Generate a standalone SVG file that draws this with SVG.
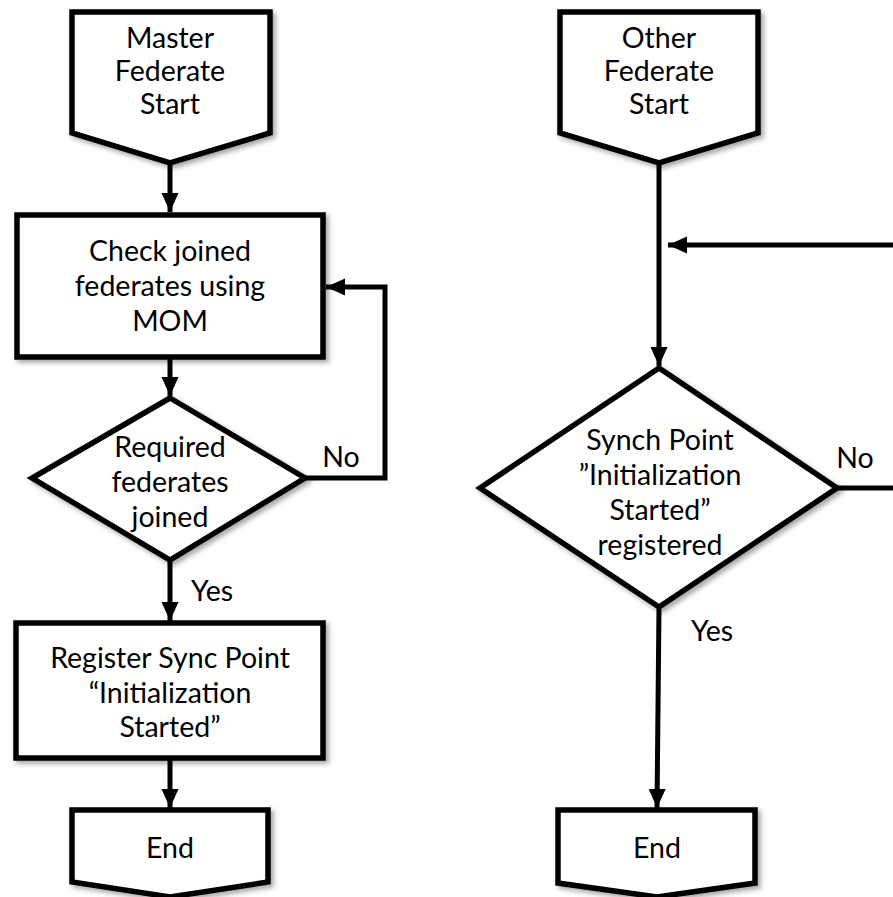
<svg xmlns="http://www.w3.org/2000/svg" width="893" height="897" viewBox="0 0 893 897">
<defs>
<filter id="sh" x="-10%" y="-10%" width="130%" height="130%">
<feDropShadow dx="3" dy="3" stdDeviation="2.5" flood-color="#000" flood-opacity="0.35"/>
</filter>
<marker id="ah" markerWidth="5" markerHeight="5" refX="3.8" refY="1.7" orient="auto" markerUnits="strokeWidth">
<path d="M0,0 L3.8,1.7 L0,3.4 z" fill="#000"/>
</marker>
<style>
.shape{fill:#fff;stroke:#000;stroke-width:5.5;stroke-linejoin:miter;filter:url(#sh)}
.t{font-family:Lato,"Open Sans","Liberation Sans",sans-serif;font-size:28.5px;fill:#000;text-anchor:middle}
.c{fill:none;stroke:#000;stroke-width:5}
</style>
</defs>
<rect width="893" height="897" fill="#fff"/>
<g id="connectors">
<line class="c" x1="170" y1="163" x2="170" y2="212" marker-end="url(#ah)"/>
<line class="c" x1="170" y1="357" x2="170" y2="396" marker-end="url(#ah)"/>
<polyline class="c" points="305,478 385,478 385,287 326,287" marker-end="url(#ah)"/>
<line class="c" x1="170" y1="560" x2="170" y2="621" marker-end="url(#ah)"/>
<line class="c" x1="170" y1="758" x2="170" y2="808" marker-end="url(#ah)"/>
<line class="c" x1="659" y1="163" x2="659" y2="366" marker-end="url(#ah)"/>
<line class="c" x1="893" y1="245" x2="668" y2="245" marker-end="url(#ah)"/>
<line class="c" x1="837" y1="488" x2="893" y2="488"/>
<line class="c" x1="659" y1="607" x2="657" y2="808" marker-end="url(#ah)"/>
<text class="t" x="341" y="467">No</text>
<text class="t" x="212" y="601">Yes</text>
<text class="t" x="855" y="468">No</text>
<text class="t" x="712" y="641">Yes</text>
</g>
<g id="master-start">
<path class="shape" d="M72,12 H270 V133 L170,163 L72,133 Z"/>
<text class="t" x="170" y="48">Master</text>
<text class="t" x="170" y="81">Federate</text>
<text class="t" x="170" y="114">Start</text>
</g>
<g id="check-joined">
<rect class="shape" x="17" y="215" width="306" height="142"/>
<text class="t" x="170" y="261">Check joined</text>
<text class="t" x="170" y="296">federates using</text>
<text class="t" x="170" y="331">MOM</text>
</g>
<g id="required-joined">
<path class="shape" d="M170,398 L305,478 L170,560 L32,478 Z"/>
<text class="t" x="170" y="457">Required</text>
<text class="t" x="170" y="492">federates</text>
<text class="t" x="170" y="527">joined</text>
</g>
<g id="register-sync">
<rect class="shape" x="16" y="623" width="307" height="135"/>
<text class="t" x="170" y="668">Register Sync Point</text>
<text class="t" x="170" y="703">“Initialization</text>
<text class="t" x="170" y="737">Started”</text>
</g>
<g id="master-end">
<path class="shape" d="M72,810 H268 V882 L170,897 L72,882 Z"/>
<text class="t" x="170" y="858">End</text>
</g>
<g id="other-start">
<path class="shape" d="M560,12 H758 V133 L659,163 L560,133 Z"/>
<text class="t" x="659" y="48">Other</text>
<text class="t" x="659" y="81">Federate</text>
<text class="t" x="659" y="114">Start</text>
</g>
<g id="synch-registered">
<path class="shape" d="M659,368 L837,488 L659,607 L480,488 Z"/>
<text class="t" x="660" y="450">Synch Point</text>
<text class="t" x="660" y="485">”Initialization</text>
<text class="t" x="660" y="520">Started”</text>
<text class="t" x="660" y="555">registered</text>
</g>
<g id="other-end">
<path class="shape" d="M558,810 H755 V883 L657,897 L558,883 Z"/>
<text class="t" x="657" y="858">End</text>
</g>
</svg>
